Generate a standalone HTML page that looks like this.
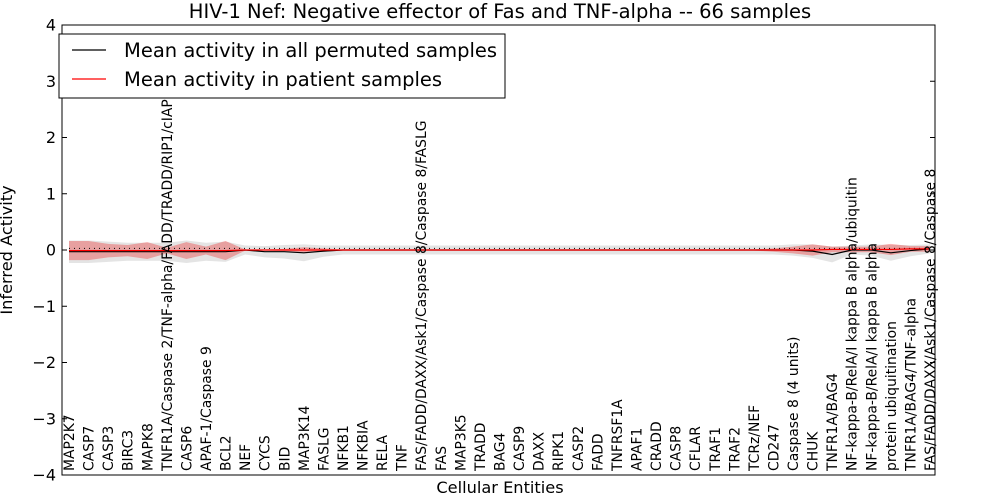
<!DOCTYPE html>
<html><head><meta charset="utf-8"><style>
body{margin:0;background:#fff;font-family:"DejaVu Sans","Liberation Sans",sans-serif;}
svg text{font-family:"DejaVu Sans","Liberation Sans",sans-serif;}
</style></head><body>
<svg id="chart" width="1000" height="500" xmlns="http://www.w3.org/2000/svg">
</svg>
<script>
const categories=["MAP2K7","CASP7","CASP3","BIRC3","MAPK8","TNFR1A/Caspase 2/TNF-alpha/FADD/TRADD/RIP1/cIAP1/TRAF2","CASP6","APAF-1/Caspase 9","BCL2","NEF","CYCS","BID","MAP3K14","FASLG","NFKB1","NFKBIA","RELA","TNF","FAS/FADD/DAXX/Ask1/Caspase 8/Caspase 8/FASLG","FAS","MAP3K5","TRADD","BAG4","CASP9","DAXX","RIPK1","CASP2","FADD","TNFRSF1A","APAF1","CRADD","CASP8","CFLAR","TRAF1","TRAF2","TCRz/NEF","CD247","Caspase 8 (4 units)","CHUK","TNFR1A/BAG4","NF-kappa-B/RelA/I kappa B alpha/ubiquitin","NF-kappa-B/RelA/I kappa B alpha","protein ubiquitination","TNFR1A/BAG4/TNF-alpha","FAS/FADD/DAXX/Ask1/Caspase 8/Caspase 8"];
const permMean=[-0.03,-0.03,-0.03,-0.03,-0.03,-0.03,-0.03,-0.03,-0.03,0,-0.03,-0.03,-0.05,-0.02,0,0,0,0,0,0,0,0,0,0,0,0,0,0,0,0,0,0,0,0,0,0,0,0,-0.02,-0.08,0,0,-0.05,-0.01,0.02];
const permSpread=[0.2,0.2,0.18,0.16,0.16,0.16,0.2,0.16,0.18,0.08,0.1,0.12,0.15,0.1,0.08,0.08,0.08,0.08,0.08,0.08,0.08,0.08,0.08,0.08,0.08,0.08,0.08,0.08,0.08,0.08,0.08,0.08,0.08,0.08,0.08,0.08,0.08,0.1,0.12,0.14,0.08,0.1,0.14,0.1,0.08];
const patMean=[-0.01,-0.01,-0.01,-0.01,-0.01,-0.01,-0.01,-0.01,-0.01,0,0,0,0,0,0,0,0,0,0,0,0,0,0,0,0,0,0,0,0,0,0,0,0,0,0,0,0,0,0,0.01,0.01,0.01,0.01,0.02,0.02];
const patSpread=[0.17,0.17,0.12,0.1,0.15,0.05,0.15,0.07,0.17,0.01,0.01,0.02,0.05,0.03,0.01,0.01,0.01,0.01,0.01,0.01,0.01,0.01,0.01,0.01,0.01,0.01,0.01,0.01,0.01,0.01,0.01,0.01,0.01,0.01,0.01,0.01,0.03,0.06,0.1,0.05,0.05,0.05,0.1,0.05,0.05];
const yTicks=[-4,-3,-2,-1,0,1,2,3,4];
const L=62,R=935,T=25,B=475;
const x=i=>69+i*(930-69)/(categories.length-1);
const y=v=>250-v*56.25;
const NS="http://www.w3.org/2000/svg";
const svg=document.getElementById('chart');
function mk(t,a,p){const e=document.createElementNS(NS,t);for(const k in a)e.setAttribute(k,a[k]);(p||svg).appendChild(e);return e;}
function band(m,s,fill,op,name){let up=m.map((v,i)=>x(i)+','+y((v||0)+(s[i]||0))),dn=m.map((v,i)=>x(i)+','+y((v||0)-(s[i]||0))).reverse();
const e=mk('polygon',{points:up.concat(dn).join(' '),fill:fill,'fill-opacity':op,stroke:'none'});

}
function line(m,col,w,name,dash){const e=mk('polyline',{points:m.map((v,i)=>x(i)+','+y(v||0)).join(' '),fill:'none',stroke:col,'stroke-width':w});if(dash)e.setAttribute('stroke-dasharray',dash);

}
band(permMean,permSpread,'#bbbbbb',0.4,'permuted-band');
band(patMean,patSpread,'#ee2222',0.35,'patient-band');
line(categories.map(()=>0.03),'#000',1,'baseline-dotted','1,4');
line(permMean,'#000',1.2,'permuted-mean-line');
line(patMean,'#ff0000',1.2,'patient-mean-line');
const fr=mk('rect',{x:L,y:T,width:R-L,height:B-T,fill:'none',stroke:'#000','stroke-width':1});


yTicks.forEach(v=>{
 mk('line',{x1:L,x2:L+5,y1:y(v),y2:y(v),stroke:'#000'});
 mk('line',{x1:R,x2:R-5,y1:y(v),y2:y(v),stroke:'#000'});
 const t=mk('text',{x:L-6,y:y(v)+5.5,'text-anchor':'end','font-size':16});
 t.textContent=(v<0?'\u2212'+(-v):v);
 
 
});
categories.forEach((c,i)=>{
 const t=mk('text',{x:0,y:0,'font-size':13.9,transform:`translate(${x(i)+5},${B-4}) rotate(-90)`});
 t.textContent=c;
 
 
});
const ti=mk('text',{x:500,y:18,'text-anchor':'middle','font-size':19.5});ti.textContent='HIV-1 Nef: Negative effector of Fas and TNF-alpha -- 66 samples';


const xl=mk('text',{x:500,y:493,'text-anchor':'middle','font-size':16.2});xl.textContent='Cellular Entities';


const yl=mk('text',{x:0,y:0,'text-anchor':'middle','font-size':16.2,transform:'translate(12,250) rotate(-90)'});yl.textContent='Inferred Activity';


const lg=mk('g',{});


mk('rect',{x:59,y:34,width:446,height:64,fill:'#fff',stroke:'#000'},lg);
mk('line',{x1:72,x2:106,y1:50,y2:50,stroke:'#000','stroke-width':1.2},lg);
mk('line',{x1:72,x2:106,y1:79,y2:79,stroke:'#ff0000','stroke-width':1.2},lg);
const l1=mk('text',{x:124,y:57,'font-size':19.5},lg);l1.textContent='Mean activity in all permuted samples';


const l2=mk('text',{x:124,y:86,'font-size':19.5},lg);l2.textContent='Mean activity in patient samples';


</script>
</body></html>
